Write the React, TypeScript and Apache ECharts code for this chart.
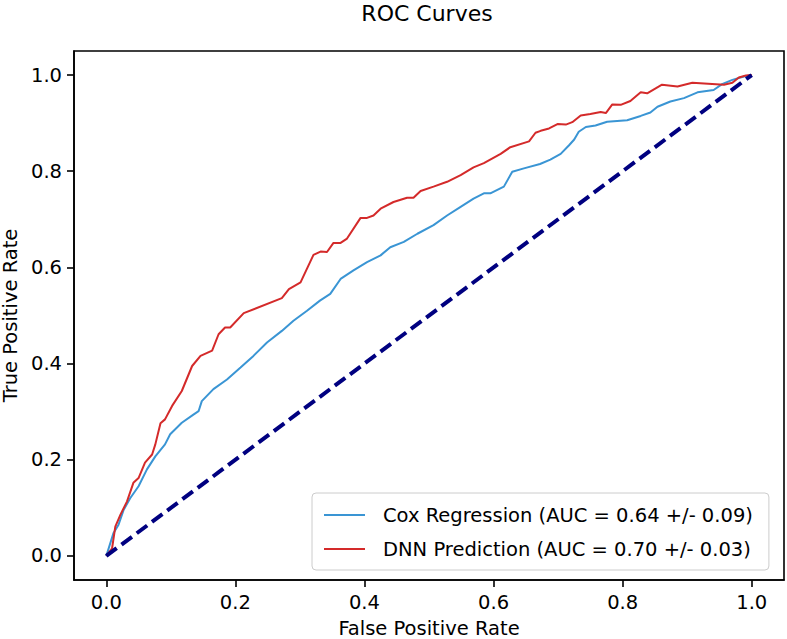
import React, { useEffect, useRef } from "react";
import * as echarts from "echarts";

const title = "ROC Curves";
const xName = "False Positive Rate";
const yName = "True Positive Rate";
const tickValues = [0, 0.2, 0.4, 0.6, 0.8, 1.0];

const coxName = "Cox Regression (AUC = 0.64 +/- 0.09)";
const coxFpr = [0, 0.011, 0.019, 0.027, 0.037, 0.05, 0.063, 0.076, 0.091, 0.099, 0.117, 0.135, 0.143, 0.148, 0.166, 0.187, 0.208, 0.228, 0.249, 0.272, 0.29, 0.311, 0.331, 0.347, 0.363, 0.383, 0.404, 0.425, 0.44, 0.461, 0.482, 0.507, 0.528, 0.549, 0.569, 0.585, 0.595, 0.616, 0.629, 0.647, 0.672, 0.688, 0.704, 0.717, 0.725, 0.732, 0.743, 0.758, 0.776, 0.807, 0.828, 0.843, 0.854, 0.874, 0.895, 0.916, 0.941, 0.954, 0.97, 0.988, 1.0];
const coxTpr = [0, 0.047, 0.065, 0.096, 0.12, 0.145, 0.18, 0.207, 0.232, 0.253, 0.277, 0.294, 0.301, 0.322, 0.347, 0.367, 0.392, 0.416, 0.444, 0.468, 0.489, 0.51, 0.531, 0.545, 0.576, 0.594, 0.611, 0.625, 0.642, 0.653, 0.67, 0.688, 0.708, 0.726, 0.743, 0.754, 0.754, 0.768, 0.799, 0.806, 0.815, 0.824, 0.836, 0.854, 0.866, 0.882, 0.892, 0.895, 0.903, 0.906, 0.915, 0.922, 0.934, 0.945, 0.952, 0.964, 0.969, 0.981, 0.99, 0.997, 1.0];

const dnnName = "DNN Prediction (AUC = 0.70 +/- 0.03)";
const dnnFpr = [0, 0.009, 0.014, 0.022, 0.032, 0.042, 0.05, 0.06, 0.071, 0.076, 0.084, 0.091, 0.102, 0.117, 0.133, 0.146, 0.164, 0.174, 0.184, 0.192, 0.213, 0.272, 0.283, 0.301, 0.321, 0.332, 0.342, 0.352, 0.363, 0.373, 0.394, 0.404, 0.414, 0.425, 0.445, 0.466, 0.476, 0.487, 0.507, 0.528, 0.549, 0.569, 0.585, 0.611, 0.626, 0.655, 0.665, 0.673, 0.686, 0.699, 0.712, 0.722, 0.735, 0.75, 0.766, 0.774, 0.784, 0.797, 0.812, 0.828, 0.838, 0.861, 0.885, 0.908, 0.957, 0.97, 0.98, 0.991, 1.0];
const dnnTpr = [0, 0.016, 0.061, 0.086, 0.113, 0.152, 0.162, 0.194, 0.211, 0.232, 0.276, 0.284, 0.312, 0.343, 0.395, 0.416, 0.427, 0.461, 0.475, 0.475, 0.505, 0.536, 0.555, 0.569, 0.626, 0.633, 0.632, 0.651, 0.651, 0.66, 0.703, 0.703, 0.708, 0.722, 0.736, 0.745, 0.745, 0.759, 0.768, 0.778, 0.792, 0.808, 0.817, 0.836, 0.85, 0.862, 0.88, 0.884, 0.889, 0.898, 0.897, 0.902, 0.916, 0.919, 0.923, 0.921, 0.939, 0.938, 0.946, 0.964, 0.962, 0.98, 0.976, 0.984, 0.98, 0.984, 0.995, 0.999, 1.0];

const chanceFpr = [0, 1];
const chanceTpr = [0, 1];

const zip = (xs: number[], ys: number[]) => xs.map((x, i) => [x, ys[i]]);

const FONT = "DejaVu Sans";

export default function App() {
  const ref = useRef<HTMLDivElement>(null);
  useEffect(() => {
    if (!ref.current) return;
    const chart = echarts.init(ref.current, undefined, { renderer: "svg" });
    const axisCommon = {
      type: "value" as const,
      min: -0.05,
      max: 1.05,
      nameLocation: "middle" as const,
      axisLine: { show: true, onZero: false, lineStyle: { color: "#000", width: 1.6 } },
      axisTick: { show: true, inside: false, length: 7, customValues: tickValues, lineStyle: { color: "#000", width: 1.6 } },
      axisLabel: {
        customValues: tickValues,
        margin: 12,
        fontFamily: FONT,
        fontSize: 19.5,
        color: "#000",
        formatter: (v: number) => v.toFixed(1),
      },
      splitLine: { show: false },
    };
    chart.setOption({
      animation: false,
      backgroundColor: "#fff",
      title: {
        text: title,
        left: 422,
        textAlign: "center",
        top: -3,
        textStyle: { fontFamily: FONT, fontSize: 22, fontWeight: "normal", color: "#000" },
      },
      grid: {
        left: 74,
        right: 3,
        top: 51,
        bottom: 59,
        outerBoundsMode: "none",
        containLabel: false,
        show: true,
        borderColor: "#000",
        borderWidth: 1.6,
        backgroundColor: "transparent",
      },
      xAxis: {
        ...axisCommon,
        name: xName,
        nameGap: 38,
        nameTextStyle: { fontFamily: FONT, fontSize: 19.5, color: "#000", lineHeight: 20 },
      },
      yAxis: {
        ...axisCommon,
        name: yName,
        nameGap: 52,
        nameTextStyle: { fontFamily: FONT, fontSize: 19.5, color: "#000" },
      },
      legend: {
        orient: "vertical",
        left: 312,
        top: 493,
        data: [coxName, dnnName],
        icon: "rect",
        itemWidth: 41,
        itemHeight: 2,
        itemGap: 10,
        padding: [10, 16, 9, 12],
        backgroundColor: "#fff",
        borderColor: "#cccccc",
        borderWidth: 1,
        borderRadius: 4,
        textStyle: { fontFamily: FONT, fontSize: 19.5, color: "#000", lineHeight: 24, padding: [0, 0, 0, 13] },
      },
      series: [
        {
          name: coxName,
          type: "line",
          data: zip(coxFpr, coxTpr),
          showSymbol: false,
          symbol: "none",
          lineStyle: { color: "#3a95d4", width: 2 },
          itemStyle: { color: "#3a95d4" },
        },
        {
          name: dnnName,
          type: "line",
          data: zip(dnnFpr, dnnTpr),
          showSymbol: false,
          symbol: "none",
          lineStyle: { color: "#d42a2a", width: 2 },
          itemStyle: { color: "#d42a2a" },
        },
        {
          name: "chance",
          type: "line",
          data: zip(chanceFpr, chanceTpr),
          showSymbol: false,
          symbol: "none",
          lineStyle: { color: "#000080", width: 4, type: [13, 6] },
        },
      ],
    });
    return () => chart.dispose();
  }, []);
  return <div ref={ref} style={{ position: "fixed", left: 0, top: 0, width: 787, height: 639 }} />;
}
